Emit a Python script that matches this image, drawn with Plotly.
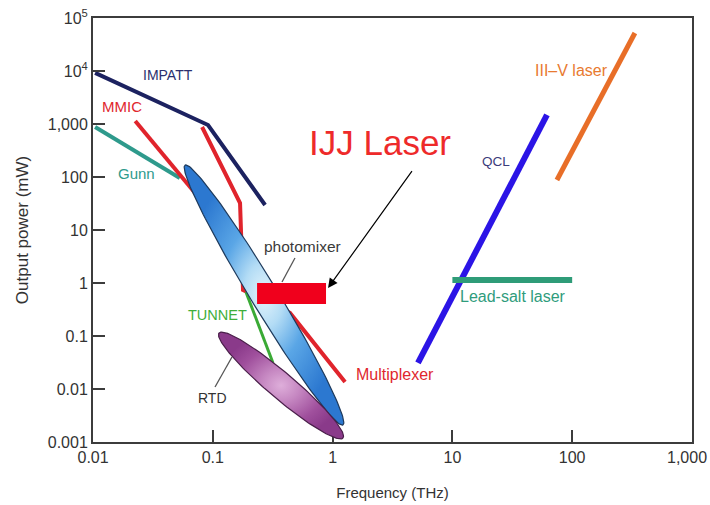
import numpy as np
import plotly.graph_objects as go

# ---------------- data (frequency in THz, power in mW) ----------------
impatt_f = [0.0104, 0.0912, 0.273]
impatt_p = [9200, 957, 29.6]

mmic_f = [0.0225, 0.0861]
mmic_p = [1140, 29.6]

mult_f = [0.0813, 0.1687, 0.1786, 0.4406, 1.27]
mult_p = [878, 32.3, 0.738, 0.272, 0.01355]

gunn_f = [0.0104, 0.0483, 0.053]
gunn_p = [878, 109, 96]

tunnet_f = [0.189, 0.318]
tunnet_p = [0.676, 0.031]

qcl_f = [5.16, 61.6]
qcl_p = [0.031, 1480]

leadsalt_f = [10.0, 100.0]
leadsalt_p = [1.14, 1.14]

iiiv_f = [74.6, 334]
iiiv_p = [87.8, 52100]

# ellipses: end-point frequencies / powers
photomixer_f = [0.0586, 1.22]
photomixer_p = [168, 0.00209]
rtd_f = [0.1127, 1.22]
rtd_p = [0.114, 0.00119]

# IJJ laser box
ijj_f = [0.234, 0.881]
ijj_p = [0.40, 1.0]

# leader lines
photomixer_lead_f = [0.485, 0.378]
photomixer_lead_p = [2.97, 1.045]
rtd_lead_f = [0.1043, 0.1445]
rtd_lead_p = [0.0109, 0.0402]

# arrow for IJJ Laser (tail -> head)
arrow_tail = (4.87, 155)
arrow_head = (0.916, 0.805)

FONT = "Liberation Sans, Arial, sans-serif"

# labels: text, freq, power, colour, size
labels = [
    ("IMPATT", 0.0422, 8410, "#2b2f6e", 14),
    ("MMIC", 0.0173, 2095, "#e0282e", 15),
    ("Gunn", 0.0231, 119, "#2e9a8c", 15),
    ("photomixer", 0.561, 4.78, "#3a3a3a", 15.5),
    ("TUNNET", 0.1094, 0.249, "#3fae3a", 14.5),
    ("RTD", 0.0994, 0.00676, "#333333", 14),
    ("Multiplexer", 3.32, 0.01837, "#e0282e", 16),
    ("QCL", 23.3, 192, "#3b3b7a", 13.5),
    ("Lead-salt laser", 32.1, 0.545, "#2f9c7c", 16),
    ("III\u2013V laser", 98.6, 10450, "#e87a30", 16),
]
ijj_label = ("IJJ Laser", 2.49, 439)

x_tickvals = [0.01, 0.1, 1, 10, 100, 1000]
x_ticktext = ["0.01", "0.1", "1", "10", "100", ""]
x_last_label = (1000, "1,000")   # drawn separately so it stays inside the page
y_tickvals = [0.001, 0.01, 0.1, 1, 10, 100, 1000, 1e4, 1e5]
y_ticktext = ["0.001", "0.01", "0.1", "1", "10", "100", "1,000",
              "10<sup>4</sup>", "10<sup>5</sup>"]

# ---------------- layout constants ----------------
W, H = 710, 505
ML, MR, MT, MB = 93, 18, 18, 63
XR = [-2.0005, 3.0005]
YR = [-3.0005, 5.0005]
PXX = (W - ML - MR) / (XR[1] - XR[0])   # px per decade on x
PXY = (H - MT - MB) / (YR[1] - YR[0])   # px per decade on y


def ellipse(f, p, width_px, n=160):
    x1, x2 = np.log10(f[0]) * PXX, np.log10(f[1]) * PXX
    y1, y2 = np.log10(p[0]) * PXY, np.log10(p[1]) * PXY
    cx, cy = (x1 + x2) / 2, (y1 + y2) / 2
    a = np.hypot(x2 - x1, y2 - y1) / 2
    b = width_px / 2
    th = np.arctan2(y2 - y1, x2 - x1)
    t = np.linspace(0, 2 * np.pi, n)
    px = cx + a * np.cos(t) * np.cos(th) - b * np.sin(t) * np.sin(th)
    py = cy + a * np.cos(t) * np.sin(th) + b * np.sin(t) * np.cos(th)
    return 10 ** (px / PXX), 10 ** (py / PXY)


fig = go.Figure()


def line(fx, py, color, width):
    fig.add_trace(go.Scatter(x=fx, y=py, mode="lines",
                             line=dict(color=color, width=width),
                             hoverinfo="skip", showlegend=False))


line(impatt_f, impatt_p, "#1c2260", 4)
line(gunn_f, gunn_p, "#2e9a8c", 4)
line(mmic_f, mmic_p, "#e0242c", 4)
line(mult_f, mult_p, "#e0242c", 4)
line(tunnet_f, tunnet_p, "#3aaa35", 3)

# photomixer ellipse
ex, ey = ellipse(photomixer_f, photomixer_p, 27)
fig.add_trace(go.Scatter(
    x=ex, y=ey, mode="lines", fill="toself",
    line=dict(color="#1e3a5c", width=1.2),
    fillgradient=dict(type="radial",
                      colorscale=[[0, "#e4f4fc"], [0.25, "#b3dcf5"],
                                  [0.55, "#5aa6e6"], [1, "#2c78d0"]]),
    hoverinfo="skip", showlegend=False))

# RTD ellipse
ex, ey = ellipse(rtd_f, rtd_p, 26)
fig.add_trace(go.Scatter(
    x=ex, y=ey, mode="lines", fill="toself",
    line=dict(color="#4a1f4a", width=1.2),
    fillgradient=dict(type="radial",
                      colorscale=[[0, "#deaeda"], [0.3, "#c688c2"],
                                  [0.7, "#a0509d"], [1, "#8a3a8a"]]),
    hoverinfo="skip", showlegend=False))

line(qcl_f, qcl_p, "#2b14e6", 6)
line(leadsalt_f, leadsalt_p, "#2f9c78", 6)
line(iiiv_f, iiiv_p, "#e86e28", 5)

line(photomixer_lead_f, photomixer_lead_p, "#555555", 1.3)
line(rtd_lead_f, rtd_lead_p, "#555555", 1.3)

# IJJ box
fig.add_trace(go.Scatter(
    x=[ijj_f[0], ijj_f[1], ijj_f[1], ijj_f[0], ijj_f[0]],
    y=[ijj_p[0], ijj_p[0], ijj_p[1], ijj_p[1], ijj_p[0]],
    mode="lines", fill="toself", fillcolor="#f0001c",
    line=dict(color="#f0001c", width=0),
    hoverinfo="skip", showlegend=False))

annotations = []
for txt, fx, py, col, sz in labels:
    annotations.append(dict(x=np.log10(fx), y=np.log10(py), text=txt,
                            showarrow=False, xref="x", yref="y",
                            font=dict(family=FONT, size=sz, color=col)))
annotations.append(dict(x=np.log10(ijj_label[1]), y=np.log10(ijj_label[2]),
                        text=ijj_label[0], showarrow=False, xref="x", yref="y",
                        font=dict(family=FONT, size=35, color="#ee2a2a")))
annotations.append(dict(x=np.log10(arrow_head[0]), y=np.log10(arrow_head[1]),
                        ax=np.log10(arrow_tail[0]), ay=np.log10(arrow_tail[1]),
                        axref="x", ayref="y", xref="x", yref="y", text=" ",
                        showarrow=True, arrowhead=2, arrowsize=1.6,
                        arrowwidth=1.2, arrowcolor="#000000"))
# last x tick label, nudged left so that it stays inside the page
annotations.append(dict(x=np.log10(x_last_label[0]), y=0, xref="x",
                        yref="paper", text=x_last_label[1], showarrow=False,
                        xanchor="center", yanchor="middle", xshift=-5,
                        yshift=-15,
                        font=dict(family=FONT, size=16, color="#333333")))

axis_common = dict(showgrid=False, zeroline=False, showline=True, mirror=True,
                   linecolor="#3c3c3c", linewidth=2, ticks="inside",
                   ticklen=12, tickwidth=2, tickcolor="#3c3c3c",
                   automargin=False,
                   tickfont=dict(family=FONT, size=16, color="#333333"))

fig.update_layout(
    width=W, height=H,
    margin=dict(l=ML, r=MR, t=MT, b=MB, autoexpand=False),
    paper_bgcolor="white", plot_bgcolor="white",
    xaxis=dict(type="log", range=XR, tickvals=x_tickvals, ticktext=x_ticktext,
               layer="below traces",
               title=dict(text="Frequency (THz)", standoff=22,
                          font=dict(family=FONT, size=15, color="#333333")),
               **axis_common),
    yaxis=dict(type="log", range=YR, tickvals=y_tickvals, ticktext=y_ticktext,
               title=dict(text="Output power (mW)",
                          font=dict(family=FONT, size=17, color="#333333")),
               **axis_common),
    annotations=annotations,
)

fig.write_html("out.html")
